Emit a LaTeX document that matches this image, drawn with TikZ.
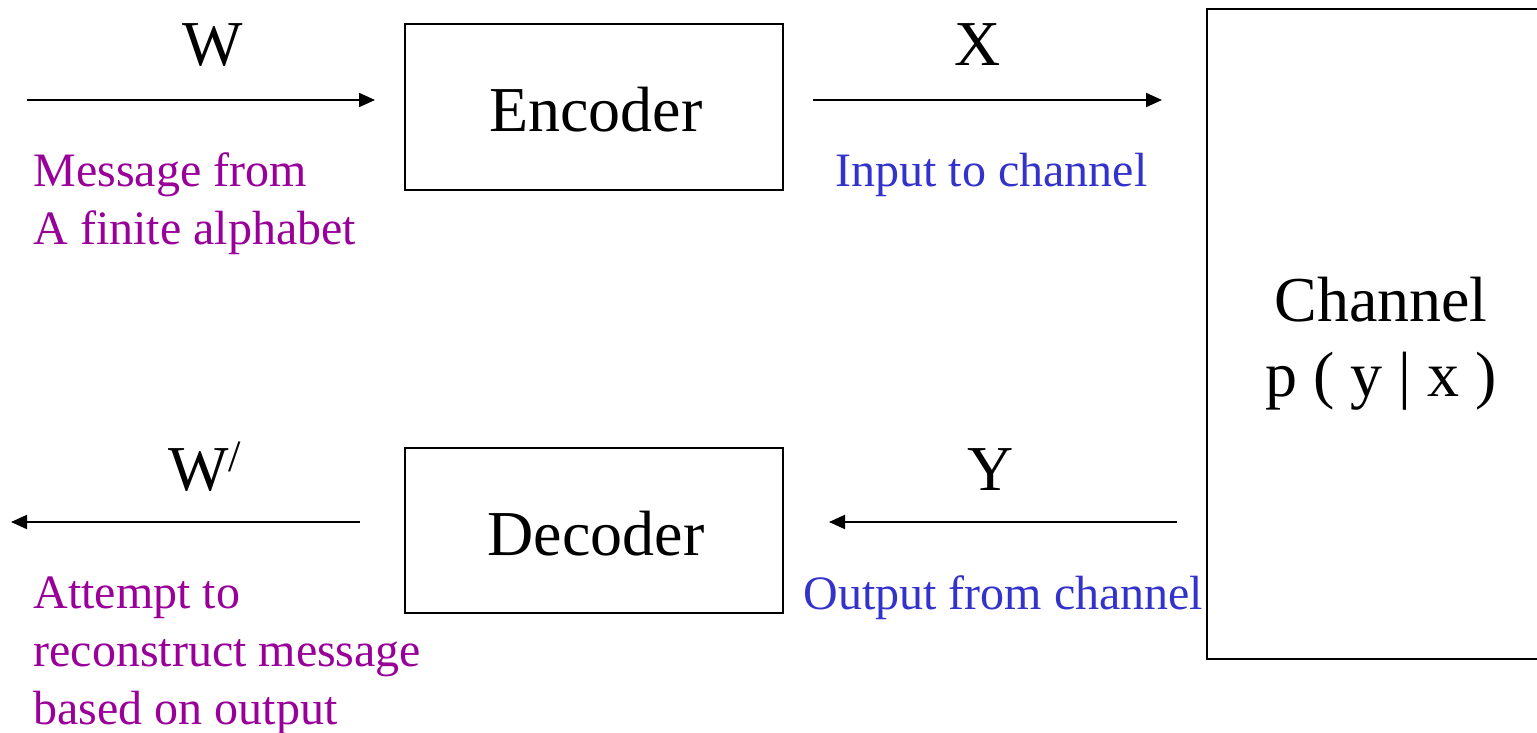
\documentclass[tikz,border=0pt]{standalone}
\usepackage{fontspec}
\setmainfont{Liberation Serif}
\usetikzlibrary{arrows.meta}
\definecolor{msgpurple}{RGB}{153,0,153}
\definecolor{chblue}{RGB}{51,51,204}
\begin{document}
\begin{tikzpicture}[x=0.5pt,y=-0.5pt,
  block/.style={draw,line width=0.8pt,inner sep=0pt},
  bigtext/.style={font=\fontsize{32}{38}\selectfont,inner sep=0pt,anchor=base},
  desc/.style={font=\fontsize{24}{29}\selectfont,inner sep=0pt,anchor=base west,align=left},
  flow/.style={line width=1pt,-{Triangle[length=8pt,width=7pt]}}]
\useasboundingbox (0,0) rectangle (1537,733);
% blocks
\node[block,minimum width=189pt,minimum height=83pt] (enc) at (594,107) {};
\node[bigtext] at (596,132) {Encoder};
\node[block,minimum width=189pt,minimum height=82.5pt] (dec) at (594,530.5) {};
\node[bigtext] at (596,555) {Decoder};
\node[block,minimum width=180pt,minimum height=325pt] (chan) at (1387,334) {};
\node[bigtext,align=center,font=\fontsize{32}{37.5}\selectfont] at (1381,396) {Channel\\p ( y | x )};
% connector ends
\coordinate (win) at (27,100);
\coordinate (wend) at (375,100);
\coordinate (xs) at (813,100);
\coordinate (xe) at (1162,100);
\coordinate (ys) at (1177,522);
\coordinate (ye) at (829,522);
\coordinate (ws) at (360,522);
\coordinate (we) at (11,522);
\draw[flow] (win) -- (wend);
\draw[flow] (xs) -- (xe);
\draw[flow] (ys) -- (ye);
\draw[flow] (ws) -- (we);
% labels
\node[bigtext] at (213,66) {W};
\node[bigtext] at (978,66) {X};
\node[bigtext] at (991,490) {Y};
\node[bigtext] at (205,490) {W\textsuperscript{/}};
% descriptions
\node[desc,text=msgpurple] at (33,244) {Message from\\A finite alphabet};
\node[desc,text=chblue] at (835,186) {Input to channel};
\node[desc,text=chblue] at (803,609) {Output from channel};
\node[desc,text=msgpurple] at (33,724) {Attempt to\\reconstruct message\\based on output};
\end{tikzpicture}
\end{document}
